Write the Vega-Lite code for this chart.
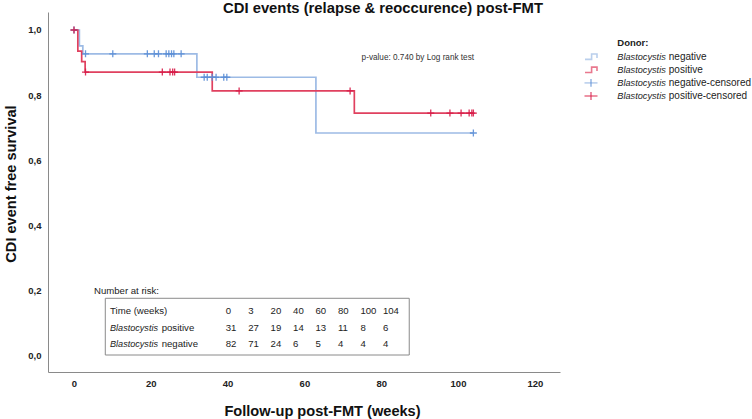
{
  "$schema": "https://vega.github.io/schema/vega-lite/v6.json",
  "width": 512,
  "height": 360,
  "autosize": {"type": "none"},
  "padding": {"left": 48, "top": 12, "right": 192, "bottom": 47},
  "background": "white",
  "config": {"font": "Liberation Sans", "view": {"stroke": null}},
  "title": {
    "text": "CDI events (relapse & reoccurence) post-FMT",
    "font": "Liberation Sans",
    "fontSize": 14.8,
    "fontWeight": "bold",
    "color": "#111111",
    "anchor": "middle",
    "frame": "group",
    "dx": 79,
    "offset": -4
  },
  "datasets": {
    "curve": [
      {"group": "negative", "t": 0, "s": 1},
      {"group": "negative", "t": 1.4, "s": 0.951},
      {"group": "negative", "t": 2.3, "s": 0.927},
      {"group": "negative", "t": 32.0, "s": 0.855},
      {"group": "negative", "t": 63.0, "s": 0.684},
      {"group": "negative", "t": 104, "s": 0.684},
      {"group": "positive", "t": 0, "s": 1},
      {"group": "positive", "t": 1.0, "s": 0.935},
      {"group": "positive", "t": 2.0, "s": 0.903},
      {"group": "positive", "t": 2.9, "s": 0.871},
      {"group": "positive", "t": 36.0, "s": 0.813},
      {"group": "positive", "t": 73.0, "s": 0.745},
      {"group": "positive", "t": 104, "s": 0.745}
    ],
    "cens": [
      {"group": "negative", "t": 0, "s": 1},
      {"group": "negative", "t": 3.0, "s": 0.927},
      {"group": "negative", "t": 10.1, "s": 0.927},
      {"group": "negative", "t": 19.1, "s": 0.927},
      {"group": "negative", "t": 20.9, "s": 0.927},
      {"group": "negative", "t": 22.0, "s": 0.927},
      {"group": "negative", "t": 24.0, "s": 0.927},
      {"group": "negative", "t": 24.7, "s": 0.927},
      {"group": "negative", "t": 25.4, "s": 0.927},
      {"group": "negative", "t": 26.0, "s": 0.927},
      {"group": "negative", "t": 27.9, "s": 0.927},
      {"group": "negative", "t": 33.9, "s": 0.855},
      {"group": "negative", "t": 34.7, "s": 0.855},
      {"group": "negative", "t": 36.0, "s": 0.855},
      {"group": "negative", "t": 37.0, "s": 0.855},
      {"group": "negative", "t": 39.0, "s": 0.855},
      {"group": "negative", "t": 39.8, "s": 0.855},
      {"group": "negative", "t": 104, "s": 0.684},
      {"group": "positive", "t": 0, "s": 1},
      {"group": "positive", "t": 3.0, "s": 0.871},
      {"group": "positive", "t": 23.0, "s": 0.871},
      {"group": "positive", "t": 25.0, "s": 0.871},
      {"group": "positive", "t": 25.7, "s": 0.871},
      {"group": "positive", "t": 26.2, "s": 0.871},
      {"group": "positive", "t": 43.0, "s": 0.813},
      {"group": "positive", "t": 71.9, "s": 0.813},
      {"group": "positive", "t": 92.9, "s": 0.745},
      {"group": "positive", "t": 97.9, "s": 0.745},
      {"group": "positive", "t": 100.8, "s": 0.745},
      {"group": "positive", "t": 102.9, "s": 0.745},
      {"group": "positive", "t": 103.6, "s": 0.745},
      {"group": "positive", "t": 104.0, "s": 0.745}
    ],
    "risk": [
      {"row": "time", "col": "0", "val": "0"},
      {"row": "time", "col": "3", "val": "3"},
      {"row": "time", "col": "20", "val": "20"},
      {"row": "time", "col": "40", "val": "40"},
      {"row": "time", "col": "60", "val": "60"},
      {"row": "time", "col": "80", "val": "80"},
      {"row": "time", "col": "100", "val": "100"},
      {"row": "time", "col": "104", "val": "104"},
      {"row": "pos", "col": "0", "val": "31"},
      {"row": "pos", "col": "3", "val": "27"},
      {"row": "pos", "col": "20", "val": "19"},
      {"row": "pos", "col": "40", "val": "14"},
      {"row": "pos", "col": "60", "val": "13"},
      {"row": "pos", "col": "80", "val": "11"},
      {"row": "pos", "col": "100", "val": "8"},
      {"row": "pos", "col": "104", "val": "6"},
      {"row": "neg", "col": "0", "val": "82"},
      {"row": "neg", "col": "3", "val": "71"},
      {"row": "neg", "col": "20", "val": "24"},
      {"row": "neg", "col": "40", "val": "6"},
      {"row": "neg", "col": "60", "val": "5"},
      {"row": "neg", "col": "80", "val": "4"},
      {"row": "neg", "col": "100", "val": "4"},
      {"row": "neg", "col": "104", "val": "4"}
    ],
    "rowlab": [
      {"row": "time", "rest": "Time (weeks)"},
      {"row": "pos", "rest": "positive"},
      {"row": "neg", "rest": "negative"}
    ],
    "legend": [
      {"k": "neg", "rest": "negative"},
      {"k": "pos", "rest": "positive"},
      {"k": "negc", "rest": "negative-censored"},
      {"k": "posc", "rest": "positive-censored"}
    ]
  },
  "layer": [
    {
      "layer": [
        {
          "data": {"name": "curve"},
          "mark": {"type": "line", "interpolate": "step-after", "strokeWidth": 1.7},
          "encoding": {
            "x": {
              "field": "t", "type": "quantitative",
              "scale": {"domain": [-6.77, 126.56], "nice": false, "zero": false},
              "axis": {
                "values": [0, 20, 40, 60, 80, 100, 120],
                "format": "d",
                "title": "Follow-up post-FMT (weeks)",
                "grid": false, "ticks": false, "tickSize": 0,
                "labelPadding": 6, "labelFont": "Liberation Sans", "labelFontWeight": "bold",
                "labelFontSize": 9.5, "labelColor": "#222222", "labelFlush": false,
                "domainColor": "#8a8a8a", "domainWidth": 1,
                "titleFont": "Liberation Sans", "titleFontSize": 14.6, "titleFontWeight": "bold",
                "titleColor": "#111111", "titleX": 274, "titleY": 43,
                "titleBaseline": "alphabetic", "titleAlign": "center"
              }
            },
            "y": {
              "field": "s", "type": "quantitative",
              "scale": {"domain": [-0.0491, 1.0552], "nice": false, "zero": false},
              "axis": {
                "values": [0, 0.2, 0.4, 0.6, 0.8, 1],
                "labelExpr": "replace(format(datum.value, '.1f'), '.', ',')",
                "title": "CDI event free survival",
                "grid": false, "ticks": false, "tickSize": 0,
                "labelPadding": 7, "labelFont": "Liberation Sans", "labelFontWeight": "bold",
                "labelFontSize": 9.5, "labelColor": "#222222", "labelFlush": false,
                "domainColor": "#8a8a8a", "domainWidth": 1,
                "titleFont": "Liberation Sans", "titleFontSize": 14.6, "titleFontWeight": "bold",
                "titleColor": "#111111", "titleAngle": -90, "titleX": -33, "titleY": 171.5,
                "titleBaseline": "alphabetic", "titleAlign": "center"
              }
            },
            "color": {
              "field": "group", "type": "nominal",
              "scale": {"domain": ["negative", "positive"], "range": ["#9dbbe5", "#e0405f"]},
              "legend": null
            }
          }
        },
        {
          "data": {"name": "cens"},
          "mark": {"type": "point", "shape": "M0,-1V1M-1,0H1", "filled": false, "size": 49, "strokeWidth": 1.3, "opacity": 0.9},
          "encoding": {
            "x": {"field": "t", "type": "quantitative"},
            "y": {"field": "s", "type": "quantitative"},
            "color": {
              "field": "group", "type": "nominal",
              "scale": {"domain": ["negative", "positive"], "range": ["#5b8ed6", "#d81b48"]},
              "legend": null
            }
          }
        },
        {
          "data": {"values": [{}]},
          "mark": {"type": "text", "text": "p-value: 0.740 by Log rank test", "align": "left", "baseline": "middle", "fontSize": 8.2, "color": "#333333", "font": "Liberation Sans"},
          "encoding": {"x": {"datum": 74.9}, "y": {"datum": 0.913}}
        },
        {
          "data": {"values": [{}]},
          "mark": {"type": "text", "text": "Number at risk:", "align": "left", "baseline": "middle", "fontSize": 9.6, "color": "#222222", "font": "Liberation Sans"},
          "encoding": {"x": {"datum": 5.2}, "y": {"datum": 0.199}}
        },
        {
          "data": {"values": [{}]},
          "mark": {"type": "rect", "fill": "transparent", "stroke": "#8a8a8a", "strokeWidth": 1},
          "encoding": {"x": {"datum": 8.15}, "x2": {"datum": 87.3}, "y": {"datum": 0.177}, "y2": {"datum": 0.003}}
        }
      ],
      "resolve": {"scale": {"color": "independent"}}
    },
    {
      "layer": [
        {
          "data": {"name": "risk"},
          "mark": {"type": "text", "align": "left", "baseline": "middle", "fontSize": 9.6, "color": "#222222", "font": "Liberation Sans"},
          "encoding": {
            "x": {
              "field": "col", "type": "ordinal",
              "scale": {"type": "point", "domain": ["0", "3", "20", "40", "60", "80", "100", "104"], "range": [177.7, 334.9], "padding": 0},
              "axis": null
            },
            "y": {
              "field": "row", "type": "nominal",
              "scale": {"type": "point", "domain": ["time", "pos", "neg"], "range": [299.3, 332], "padding": 0},
              "axis": null
            },
            "text": {"field": "val"}
          }
        },
        {
          "data": {"name": "rowlab"},
          "transform": [{"filter": "datum.row == 'time'"}],
          "mark": {"type": "text", "align": "left", "baseline": "middle", "fontSize": 9.6, "color": "#222222", "font": "Liberation Sans", "dx": -115.7},
          "encoding": {
            "x": {"datum": "0", "type": "ordinal", "axis": null},
            "y": {"field": "row", "type": "nominal", "axis": null},
            "text": {"field": "rest"}
          }
        },
        {
          "data": {"name": "rowlab"},
          "transform": [{"filter": "datum.row != 'time'"}],
          "mark": {"type": "text", "text": "Blastocystis", "fontStyle": "italic", "align": "left", "baseline": "middle", "fontSize": 9.1, "color": "#222222", "font": "Liberation Sans", "dx": -115.7},
          "encoding": {
            "x": {"datum": "0", "type": "ordinal", "axis": null},
            "y": {"field": "row", "type": "nominal", "axis": null}
          }
        },
        {
          "data": {"name": "rowlab"},
          "transform": [{"filter": "datum.row != 'time'"}],
          "mark": {"type": "text", "align": "left", "baseline": "middle", "fontSize": 9.6, "color": "#222222", "font": "Liberation Sans", "dx": -64},
          "encoding": {
            "x": {"datum": "0", "type": "ordinal", "axis": null},
            "y": {"field": "row", "type": "nominal", "axis": null},
            "text": {"field": "rest"}
          }
        }
      ]
    },
    {
      "data": {"name": "legend"},
      "encoding": {
        "y": {
          "field": "k", "type": "nominal",
          "scale": {"type": "point", "domain": ["neg", "pos", "negc", "posc"], "range": [44.7, 84], "padding": 0},
          "axis": null
        },
        "x": {
          "datum": "sym", "type": "nominal",
          "scale": {"type": "point", "domain": ["sym", "txt"], "range": [543, 569.3], "padding": 0},
          "axis": null
        }
      },
      "layer": [
        {
          "transform": [{"filter": "datum.k == 'neg'"}],
          "mark": {"type": "point", "shape": "M-1,0.45H0.1V-0.45H1V0.2", "filled": false, "size": 144, "strokeWidth": 1.6, "color": "#9dbbe5"}
        },
        {
          "transform": [{"filter": "datum.k == 'pos'"}],
          "mark": {"type": "point", "shape": "M-1,0.45H0.1V-0.45H1V0.2", "filled": false, "size": 144, "strokeWidth": 1.6, "color": "#e0405f"}
        },
        {
          "transform": [{"filter": "datum.k == 'negc'"}],
          "mark": {"type": "point", "shape": "M-1,0H1", "filled": false, "size": 169, "strokeWidth": 1.6, "color": "#9dbbe5"}
        },
        {
          "transform": [{"filter": "datum.k == 'negc'"}],
          "mark": {"type": "point", "shape": "M0,-0.6V0.6", "filled": false, "size": 169, "strokeWidth": 1.4, "color": "#5b8ed6"}
        },
        {
          "transform": [{"filter": "datum.k == 'posc'"}],
          "mark": {"type": "point", "shape": "M-1,0H1", "filled": false, "size": 169, "strokeWidth": 1.6, "color": "#e0405f"}
        },
        {
          "transform": [{"filter": "datum.k == 'posc'"}],
          "mark": {"type": "point", "shape": "M0,-0.6V0.6", "filled": false, "size": 169, "strokeWidth": 1.4, "color": "#d81b48"}
        },
        {
          "mark": {"type": "text", "text": "Blastocystis", "fontStyle": "italic", "align": "left", "baseline": "middle", "fontSize": 9.2, "color": "#222222", "font": "Liberation Sans"},
          "encoding": {"x": {"datum": "txt", "type": "nominal"}}
        },
        {
          "mark": {"type": "text", "align": "left", "baseline": "middle", "fontSize": 10, "color": "#222222", "font": "Liberation Sans", "dx": 51.5},
          "encoding": {"x": {"datum": "txt", "type": "nominal"}, "text": {"field": "rest"}}
        },
        {
          "data": {"values": [{}]},
          "mark": {"type": "text", "text": "Donor:", "align": "left", "baseline": "middle", "fontSize": 9.5, "fontWeight": "bold", "color": "#222222", "font": "Liberation Sans", "dy": -13.4},
          "encoding": {"x": {"datum": "txt", "type": "nominal"}, "y": {"datum": "neg", "type": "nominal"}}
        }
      ]
    }
  ],
  "resolve": {"scale": {"x": "independent", "y": "independent", "color": "independent"}}
}
